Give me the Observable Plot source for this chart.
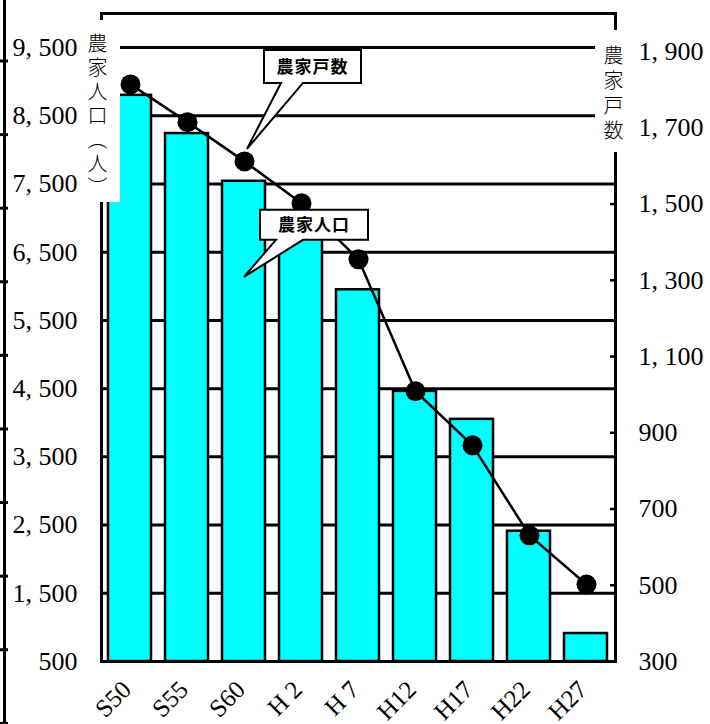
<!DOCTYPE html>
<html>
<head>
<meta charset="utf-8">
<script src="https://cdn.jsdelivr.net/npm/d3@7"></script>
<script src="https://cdn.jsdelivr.net/npm/@observablehq/plot@0.6"></script>
<style>
  html, body { margin: 0; padding: 0; background: white; }
  #wrap { position: relative; width: 710px; height: 724px; overflow: hidden; }
  #wrap svg { position: absolute; left: 0; top: 0; }
  .edge { position: absolute; left: 3px; top: 0; width: 3px; height: 724px; background: black; }
  .edgeticks { position: absolute; left: 0; top: 0; width: 8px; height: 724px;
    background-image: linear-gradient(to bottom, black 0, black 3px, transparent 3px);
    background-size: 8px 73.6px; background-repeat: repeat-y; background-position: 0 59.5px; }
  .ytitle { position: absolute; background: white; writing-mode: vertical-rl;
    font-family: "Noto Sans CJK JP", sans-serif; font-size: 20px; font-weight: 300; color: black; }
  #ltitle { left: 84px; top: 20px; width: 26px; padding-right: 10px; height: 169px; padding-top: 13px;
    line-height: 26px; letter-spacing: 4px; }
  #rtitle { left: 595px; top: 30px; width: 36px; height: 107px; padding-top: 15px;
    line-height: 36px; letter-spacing: 5px; }
</style>
</head>
<body>
<div id="wrap">
  <div class="edge"></div>
  <div class="edgeticks"></div>
</div>
<script>
// ---- data ----
const categories = ["S50", "S55", "S60", "H 2", "H 7", "H12", "H17", "H22", "H27"];
const population = [8800, 8240, 7540, 6850, 5950, 4460, 4050, 2410, 910];   // 農家人口（人）
const households = [1814, 1715, 1612, 1502, 1355, 1009, 867, 631, 502];     // 農家戸数
const leftTicks = [500, 1500, 2500, 3500, 4500, 5500, 6500, 7500, 8500, 9500];
const rightTicks = [300, 500, 700, 900, 1100, 1300, 1500, 1700, 1900];
const leftDomain = [500, 10000];
const rightDomain = [300, 2000];
const leftTitle = "農家人口（人）";
const rightTitle = "農家戸数";
const calloutHouseholds = "農家戸数";
const calloutPopulation = "農家人口";

const rows = categories.map((c, i) => ({cat: c, pop: population[i], hh: households[i]}));
const fmt = d => d3.format(",")(d).replace(",", ", ");

const W = 710, H = 724;
const margins = {marginLeft: 101, marginRight: 95, marginTop: 13, marginBottom: 63};
const xOpts = {domain: categories, paddingInner: 0.24, paddingOuter: 0.12, axis: null};
const tickFont = {fontFamily: "'Liberation Serif', 'Times New Roman', serif", fontSize: "26px", overflow: "visible"};

const plot1 = Plot.plot({
  width: W, height: H, ...margins,
  style: {...tickFont, background: "white", color: "black"},
  x: xOpts,
  y: {domain: leftDomain, axis: null},
  marks: [
    Plot.ruleY(leftTicks.slice(1), {stroke: "black", strokeWidth: 3}),
    Plot.barY(rows, {x: "cat", y1: leftDomain[0], y2: "pop", fill: "#00FFFF", stroke: "black", strokeWidth: 2.5}),
    Plot.axisY(leftTicks, {anchor: "left", tickSize: 0, tickPadding: 24, tickFormat: fmt, label: null, fontSize: 26}),
    Plot.frame({stroke: "black", strokeWidth: 3}),
    Plot.text(rows, {x: "cat", text: "cat", frameAnchor: "bottom", dx: -3, dy: 24, rotate: -45,
      textAnchor: "end", lineAnchor: "middle", fontSize: 25, fill: "black"})
  ]
});

const plot2 = Plot.plot({
  width: W, height: H, ...margins,
  style: {...tickFont, background: "transparent", color: "black"},
  x: xOpts,
  y: {domain: rightDomain, axis: null},
  marks: [
    Plot.line(rows, {x: "cat", y: "hh", stroke: "black", strokeWidth: 2.5}),
    Plot.dot(rows, {x: "cat", y: "hh", r: 10, fill: "black", stroke: "none"}),
    Plot.axisY(rightTicks, {anchor: "right", tickSize: -6, tickPadding: 29, strokeWidth: 2.5,
      tickFormat: fmt, label: null, fontSize: 26})
  ]
});

const wrap = document.getElementById("wrap");
wrap.insertBefore(plot1, wrap.firstChild);
wrap.appendChild(plot2);

// ---- callouts (anchored to the S60 data) ----
const xs = plot2.scale("x"), yR = plot2.scale("y"), yL = plot1.scale("y");
const i60 = 2;
const cx = xs.apply(categories[i60]) + xs.bandwidth / 2;
function callout(svg, tipX, tipY, L, R, T, B, b1, b2, label) {
  const g = d3.select(svg).append("g");
  g.append("path")
    .attr("d", `M${L},${T}H${R}V${B}H${b2}L${tipX},${tipY}L${b1},${B}H${L}Z`)
    .attr("fill", "white").attr("stroke", "black").attr("stroke-width", 2).attr("stroke-linejoin", "miter");
  g.append("text").attr("x", (L + R) / 2).attr("y", (T + B) / 2).attr("dy", "0.36em")
    .attr("text-anchor", "middle")
    .style("font-family", "'Noto Sans CJK JP', sans-serif").style("font-size", "17px").style("font-weight", "bold")
    .style("letter-spacing", "1px")
    .text(label);
}
{
  const tx = cx + 3, ty = yR.apply(households[i60]) - 12;
  callout(plot2, tx, ty, cx + 20, cx + 117, ty - 99, ty - 66, cx + 37, cx + 59, calloutHouseholds);
}
{
  const tx = cx, ty = yL.apply(population[i60]) + 96;
  callout(plot2, tx, ty, cx + 16, cx + 124, ty - 67, ty - 37, cx + 32, cx + 59, calloutPopulation);
}

// ---- axis titles ----
const lt = document.createElement("div"); lt.id = "ltitle"; lt.className = "ytitle"; lt.textContent = leftTitle;
const rt = document.createElement("div"); rt.id = "rtitle"; rt.className = "ytitle"; rt.textContent = rightTitle;
wrap.appendChild(lt); wrap.appendChild(rt);
</script>
</body>
</html>
